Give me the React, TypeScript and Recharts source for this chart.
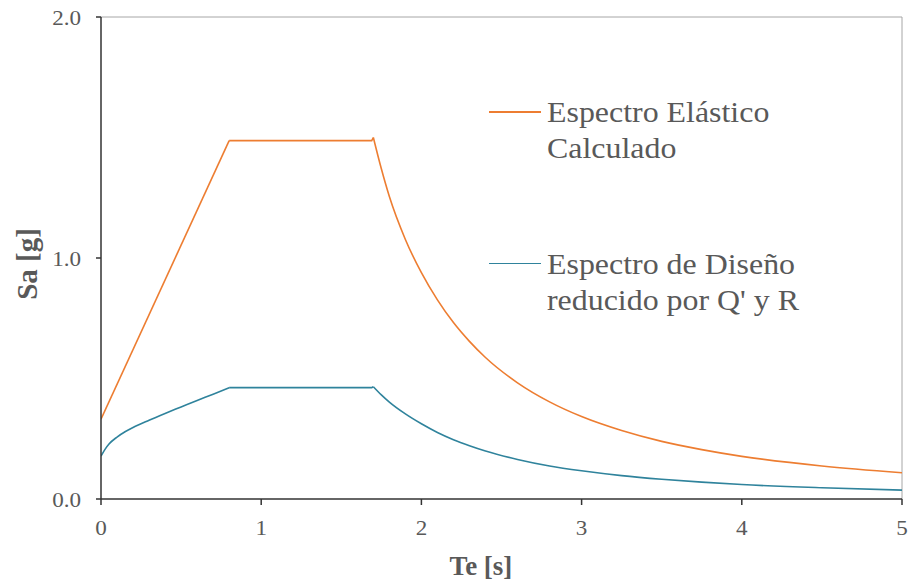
import { LineChart, Line, XAxis, YAxis, ReferenceLine, Legend, Label } from 'recharts';

// periods [s] and spectral accelerations [g]
const periodsElastic = [0, 0.8, 1.69, 1.7, 1.75, 1.8, 1.9, 2.0, 2.1, 2.2, 2.3, 2.4, 2.6, 2.8, 3.0, 3.25, 3.5, 3.75, 4.0, 4.5, 5.0];
const saElastic = [0.331, 1.487, 1.487, 1.5, 1.37, 1.255, 1.077, 0.939, 0.826, 0.732, 0.654, 0.587, 0.482, 0.403, 0.342, 0.284, 0.239, 0.205, 0.177, 0.137, 0.109];

const periodsDesign = [0, 0.025, 0.05, 0.1, 0.15, 0.2, 0.3, 0.4, 0.5, 0.6, 0.7, 0.8, 1.69, 1.7, 1.75, 1.8, 1.9, 2.0, 2.1, 2.2, 2.3, 2.4, 2.6, 2.8, 3.0, 3.25, 3.5, 3.75, 4.0, 4.5, 5.0];
const saDesign = [0.178, 0.206, 0.228, 0.257, 0.279, 0.297, 0.327, 0.355, 0.382, 0.409, 0.435, 0.462, 0.462, 0.466, 0.432, 0.402, 0.353, 0.312, 0.276, 0.246, 0.221, 0.199, 0.164, 0.137, 0.117, 0.097, 0.082, 0.07, 0.06, 0.0466, 0.037];

const xTicks = [0, 1, 2, 3, 4, 5];
const yTicks = [0, 1, 2];

const legendElastic = ['Espectro Elástico', 'Calculado'];
const legendDesign = ['Espectro de Diseño', "reducido por Q' y R"];

const ORANGE = '#ED7D31';
const TEAL = '#2F839C';
const TEXT = '#595959';
const FONT = '"Liberation Serif", "Times New Roman", serif';

const toRows = (ts: number[], vs: number[], from: number, to: number) =>
  ts.slice(from, to + 1).map((t, i) => ({ t, sa: vs[from + i] }));

// rise, plateau (up to the small jump at Tc) and decaying branch
const elasticRise = toRows(periodsElastic, saElastic, 0, 1);
const elasticPlateau = toRows(periodsElastic, saElastic, 1, 3);
const elasticDecay = toRows(periodsElastic, saElastic, 3, periodsElastic.length - 1);

const designRise = toRows(periodsDesign, saDesign, 0, 11);
const designPlateau = toRows(periodsDesign, saDesign, 11, 13);
const designDecay = toRows(periodsDesign, saDesign, 13, periodsDesign.length - 1);

const XTick = ({ x, y, payload }: any) => (
  <text transform={`translate(${x},${y}) scale(1.1,1)`} textAnchor="middle" dy={30} fontSize={21} fill={TEXT} fontFamily={FONT}>
    {payload.value}
  </text>
);

const YTick = ({ x, y, payload }: any) => (
  <text transform={`translate(${x},${y}) scale(1.1,1)`} textAnchor="end" dy="0.36em" fontSize={21} fill={TEXT} fontFamily={FONT}>
    {Number(payload.value).toFixed(1)}
  </text>
);

const LegendEntry = ({ lines, color, top }: { lines: string[]; color: string; top: number }) => (
  <div style={{ position: 'absolute', left: 0, top, width: 330 }}>
    <div style={{ position: 'absolute', left: 0, top: 17, width: 52, height: 1.5, background: color }} />
    <div
      style={{
        position: 'absolute',
        left: 58,
        top: 0,
        fontFamily: FONT,
        fontSize: 29,
        lineHeight: '36px',
        color: TEXT,
        whiteSpace: 'nowrap',
        transform: 'scaleX(1.1)',
        transformOrigin: 'left top',
      }}
    >
      {lines.map((l) => (
        <div key={l}>{l}</div>
      ))}
    </div>
  </div>
);

const renderLegend = () => (
  <div style={{ position: 'relative', width: 330, height: 240 }}>
    <LegendEntry lines={legendElastic} color={ORANGE} top={0} />
    <LegendEntry lines={legendDesign} color={TEAL} top={151.5} />
  </div>
);

export default function App() {
  const lineProps = { dataKey: 'sa', strokeWidth: 1.6, dot: false, activeDot: false, isAnimationActive: false } as const;
  return (
    <div style={{ position: 'absolute', left: 0, top: 0, width: 911, height: 588, background: '#fff' }}>
      <LineChart width={911} height={588} margin={{ top: 17, right: 9, bottom: 49, left: 41 }}>
        <XAxis
          dataKey="t"
          type="number"
          domain={[0, 5]}
          ticks={xTicks}
          allowDataOverflow
          tickSize={6}
          tickMargin={0}
          height={40}
          stroke="#333"
          strokeWidth={1.5}
          tick={<XTick />}
        >
          <Label
            content={() => (
              <text x={481} y={575} textAnchor="middle" fontSize={27} fontWeight="bold" fill={TEXT} fontFamily={FONT}>
                Te [s]
              </text>
            )}
          />
        </XAxis>
        <YAxis
          type="number"
          domain={[0, 2]}
          ticks={yTicks}
          allowDataOverflow
          width={60}
          tickSize={5}
          tickMargin={15}
          stroke="#333"
          strokeWidth={1.5}
          tick={<YTick />}
        >
          <Label
            content={() => (
              <text
                x={37}
                y={264}
                transform="rotate(-90, 37, 264)"
                textAnchor="middle"
                fontSize={29}
                fontWeight="bold"
                fill={TEXT}
                fontFamily={FONT}
              >
                Sa [g]
              </text>
            )}
          />
        </YAxis>
        <ReferenceLine y={2} stroke="#A6A6A6" strokeWidth={1} />
        <ReferenceLine x={5} stroke="#A6A6A6" strokeWidth={1} />
        <Legend
          layout="vertical"
          align="center"
          verticalAlign="middle"
          content={renderLegend}
          wrapperStyle={{ left: 489, top: 94, width: 330, height: 240 }}
        />
        <Line data={elasticRise} type="linear" stroke={ORANGE} {...lineProps} />
        <Line data={elasticPlateau} type="linear" stroke={ORANGE} {...lineProps} />
        <Line data={elasticDecay} type="monotone" stroke={ORANGE} {...lineProps} />
        <Line data={designRise} type="monotone" stroke={TEAL} {...lineProps} />
        <Line data={designPlateau} type="linear" stroke={TEAL} {...lineProps} />
        <Line data={designDecay} type="monotone" stroke={TEAL} {...lineProps} />
      </LineChart>
    </div>
  );
}
